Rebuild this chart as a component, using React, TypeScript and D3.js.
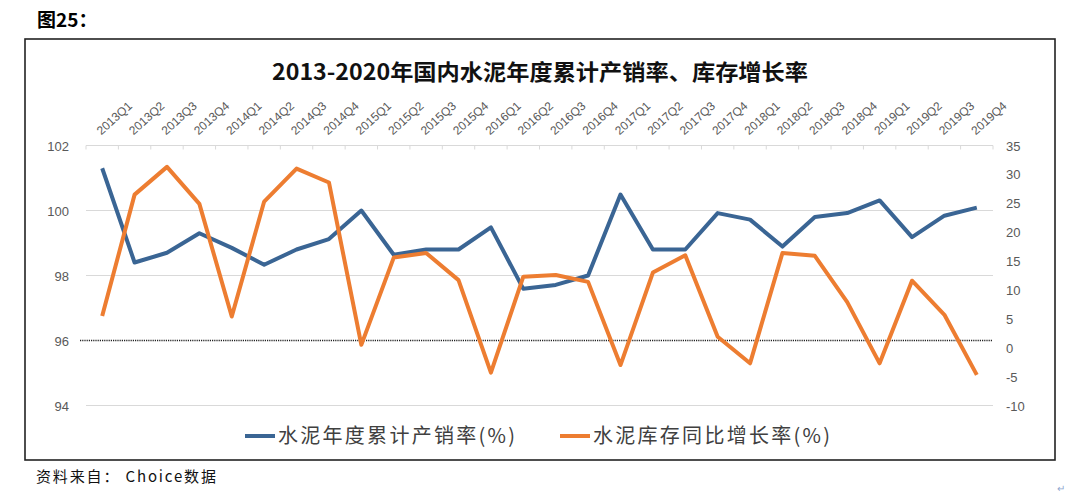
import * as d3 from "d3";

// quarters 2013Q1 .. 2019Q4
const quarters = [
  "2013Q1", "2013Q2", "2013Q3", "2013Q4",
  "2014Q1", "2014Q2", "2014Q3", "2014Q4",
  "2015Q1", "2015Q2", "2015Q3", "2015Q4",
  "2016Q1", "2016Q2", "2016Q3", "2016Q4",
  "2017Q1", "2017Q2", "2017Q3", "2017Q4",
  "2018Q1", "2018Q2", "2018Q3", "2018Q4",
  "2019Q1", "2019Q2", "2019Q3", "2019Q4",
];

// 水泥年度累计产销率 (%) - left axis
const salesRate = [
  101.3, 98.4, 98.7, 99.3,
  98.85, 98.33, 98.8, 99.12,
  100.0, 98.64, 98.8, 98.8,
  99.48, 97.59, 97.71, 98.0,
  100.49, 98.8, 98.8, 99.92,
  99.72, 98.89, 99.8, 99.92,
  100.31, 99.18, 99.84, 100.09,
];

// 水泥库存同比增长率 (%) - right axis
const stockGrowth = [
  5.5, 26.5, 31.3, 24.9,
  5.4, 25.3, 31.0, 28.6,
  0.5, 15.6, 16.4, 11.7,
  -4.3, 12.3, 12.6, 11.4,
  -3.0, 13.0, 16.0, 1.9,
  -2.7, 16.4, 15.9, 7.9,
  -2.7, 11.6, 5.7, -4.7,
];

const leftTicks = [94, 96, 98, 100, 102];
const rightTicks = [-10, -5, 0, 5, 10, 15, 20, 25, 30, 35];

const title = "2013-2020年国内水泥年度累计产销率、库存增长率";
const legendNames = ["水泥年度累计产销率(%)", "水泥库存同比增长率(%)"];

const BLUE = "#3a6594";
const ORANGE = "#ed7d31";
const CJK = "'Noto Sans CJK SC', sans-serif";
const NUM = "'Liberation Sans', Arial, sans-serif";

export default function App() {
  const W = 1080;
  const H = 504;
  const plot = { left: 86, right: 993, top: 145.5, bottom: 405.5 };

  const x = d3.scaleBand<string>().domain(quarters).range([plot.left, plot.right]);
  const cx = (q: string) => (x(q) ?? 0) + x.bandwidth() / 2;
  const yL = d3.scaleLinear().domain([94, 102]).range([plot.bottom, plot.top]);
  const yR = d3.scaleLinear().domain([-10, 35]).range([plot.bottom, plot.top]);

  const blueLine = d3
    .line<number>()
    .x((_, i) => cx(quarters[i]))
    .y((d) => yL(d))(salesRate) ?? "";
  const orangeLine = d3
    .line<number>()
    .x((_, i) => cx(quarters[i]))
    .y((d) => yR(d))(stockGrowth) ?? "";

  const boundaries = quarters.map((q) => x(q) ?? 0).concat([plot.right]);

  return (
    <svg
      width={W}
      height={H}
      viewBox={`0 0 ${W} ${H}`}
      style={{ position: "absolute", left: 0, top: 0, background: "#fff" }}
    >
      <text x={37} y={27} fontFamily={CJK} fontWeight="bold" fontSize={19} fill="#000">
        图25：
      </text>

      {/* chart frame */}
      <rect x={25} y={39} width={1030} height={421} fill="#fff" stroke="#222" strokeWidth={1.6} />

      <text
        x={540}
        y={80}
        textAnchor="middle"
        fontFamily={CJK}
        fontWeight="bold"
        fontSize={22}
        fill="#111"
        textLength={536}
        lengthAdjust="spacingAndGlyphs"
      >
        {title}
      </text>

      {/* gridlines */}
      {leftTicks
        .filter((t) => t !== 96)
        .map((t) => (
          <line key={t} x1={plot.left} x2={plot.right} y1={yL(t)} y2={yL(t)} stroke="#d9d9d9" strokeWidth={1} />
        ))}
      {boundaries.map((b, i) => (
        <line key={i} x1={b} x2={b} y1={plot.top} y2={plot.top + 4} stroke="#d9d9d9" strokeWidth={1} />
      ))}
      <line
        x1={plot.left - 6}
        x2={plot.right}
        y1={yL(96)}
        y2={yL(96)}
        stroke="#222"
        strokeWidth={1.5}
        strokeDasharray="1.2,1"
      />

      {/* left axis labels */}
      {leftTicks.map((t) => (
        <text key={t} x={69} y={yL(t) + 5} textAnchor="end" fontFamily={NUM} fontSize={13} fill="#595959">
          {t}
        </text>
      ))}
      {/* right axis labels */}
      {rightTicks.map((t) => (
        <text key={t} x={1006} y={yR(t) + 5} textAnchor="start" fontFamily={NUM} fontSize={13} fill="#595959">
          {t}
        </text>
      ))}

      {/* category labels on top */}
      {quarters.map((q) => (
        <text
          key={q}
          transform={`translate(${cx(q) - 1},${plot.top - 10}) rotate(-42)`}
          fontFamily={NUM}
          fontSize={12}
          fill="#595959"
        >
          {q}
        </text>
      ))}

      <path d={blueLine} fill="none" stroke={BLUE} strokeWidth={4} strokeLinejoin="round" />
      <path d={orangeLine} fill="none" stroke={ORANGE} strokeWidth={4} strokeLinejoin="round" />

      {/* legend */}
      <line x1={245} x2={275} y1={436} y2={436} stroke={BLUE} strokeWidth={4} />
      <text x={278} y={443} fontFamily={CJK} fontSize={20} fill="#404040" textLength={237} lengthAdjust="spacing">
        {legendNames[0]}
      </text>
      <line x1={560} x2={590} y1={436} y2={436} stroke={ORANGE} strokeWidth={4} />
      <text x={593} y={443} fontFamily={CJK} fontSize={20} fill="#404040" textLength={237} lengthAdjust="spacing">
        {legendNames[1]}
      </text>

      <text x={36} y={482} fontFamily={CJK} fontSize={15} fill="#111" textLength={180} lengthAdjust="spacing">
        资料来自： Choice数据
      </text>
      <text x={1057} y={492} fontFamily={NUM} fontSize={10} fill="#8fa8d0">
        ↵
      </text>
    </svg>
  );
}
